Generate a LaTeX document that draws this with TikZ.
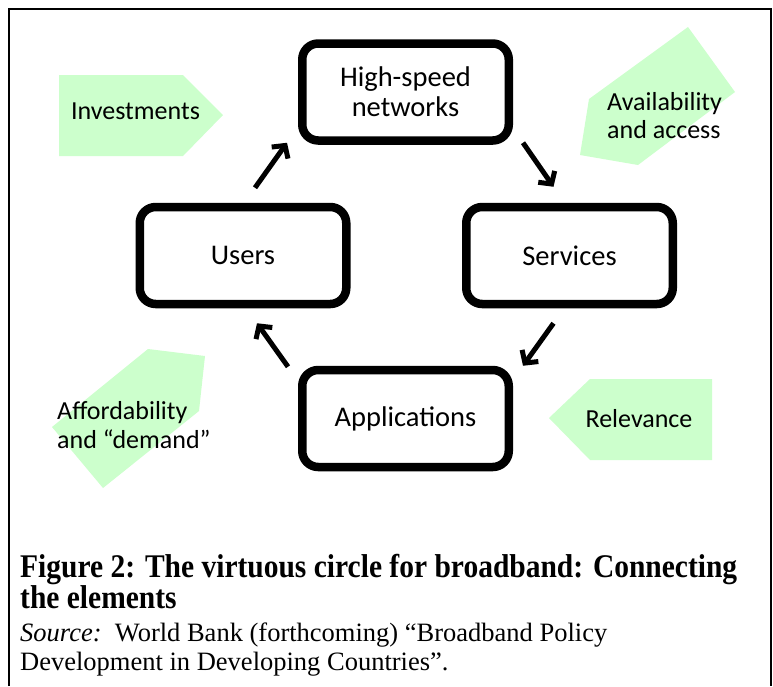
\documentclass[tikz,border=0pt]{standalone}
\usepackage{fontspec}
\setmainfont{Carlito}
\newfontfamily\capfont{Liberation Serif}
\usetikzlibrary{arrows.meta,calc,shadows}
\definecolor{lgreen}{RGB}{204,255,204}
\tikzset{
  cbox/.style={draw=black, line width=8.5pt, rounded corners=16pt, fill=white,
    minimum width=206.5pt, minimum height=97pt, inner sep=0pt,
    font=\fontsize{28.5}{30}\selectfont, align=center,
    drop shadow={shadow xshift=2pt, shadow yshift=-3pt, opacity=0.22, fill=black}},
  carr/.style={line width=5pt, -{Straight Barb[length=9pt,width=20pt]}},
  glabel/.style={font=\fontsize{26}{29}\selectfont, inner sep=0pt},
  gshape/.style={fill=lgreen, draw=none},
  captext/.style={anchor=base west, inner sep=0pt}
}
\begin{document}
\begin{tikzpicture}[x=1pt,y=-1pt]
\useasboundingbox (0,0) rectangle (773,686);
\fill[white] (0,0) rectangle (773,686);
\draw[line width=2pt] (9,686) -- (9,9) -- (771,9) -- (771,686);
% green shapes
\fill[gshape] (59,75) -- (183,75) -- (223,115) -- (183,156) -- (59,156) -- cycle;
\fill[gshape] (549,418) -- (590,379) -- (712,379) -- (712,460) -- (590,460) -- cycle;
\fill[gshape] (688,27) -- (735,92) -- (638,165) -- (580,155) -- (589,99) -- cycle;
\fill[gshape] (148,349) -- (205,356) -- (199,411) -- (103,488) -- (52,427) -- cycle;
\node[glabel, anchor=base] (inv) at (135.5,119) {Investments};
\node[glabel, anchor=base] (rel) at (639,427) {Relevance};
\node[glabel, anchor=base west] (av1) at (607,110) {Availability};
\node[glabel, anchor=base west] (av2) at (607,138) {and access};
\node[glabel, anchor=base west] (af1) at (57,419) {Affordability};
\node[glabel, anchor=base west] (af2) at (57,448) {and “demand”};
% boxes
\node[cbox] (hs) at (405.5,92) {High-speed\\networks};
\node[cbox] (users) at (243,255.5) {Users};
\node[cbox] (serv) at (569.5,255.5) {Services};
\node[cbox] (app) at (405.5,418.5) {Applications};
% arrows
\draw[carr] ($(users.north)+(12,-15)$) -- ($(hs.south west)+(-11,-2)$);
\draw[carr] ($(hs.south east)+(10,-2)$) -- ($(serv.north)+(-16,-16)$);
\draw[carr] ($(serv.south)+(-16,15)$) -- ($(app.north east)+(10,0)$);
\draw[carr] ($(app.north west)+(-10,1)$) -- ($(users.south)+(14,15)$);
% caption
\node[captext, yscale=1.12, font=\capfont\bfseries\fontsize{29.5}{30}\selectfont] (cap1) at (20,577) {Figure 2: The virtuous circle for broadband: Connecting};
\node[captext, yscale=1.12, font=\capfont\bfseries\fontsize{29.5}{30}\selectfont] (cap2) at (20,608) {the elements};
\node[captext, font=\capfont\fontsize{26.5}{28}\selectfont] (cap3) at (20,641) {\textit{Source:}\ \ World Bank (forthcoming) “Broadband Policy};
\node[captext, font=\capfont\fontsize{26.5}{28}\selectfont] (cap4) at (20,670) {Development in Developing Countries”.};
\end{tikzpicture}
\end{document}
